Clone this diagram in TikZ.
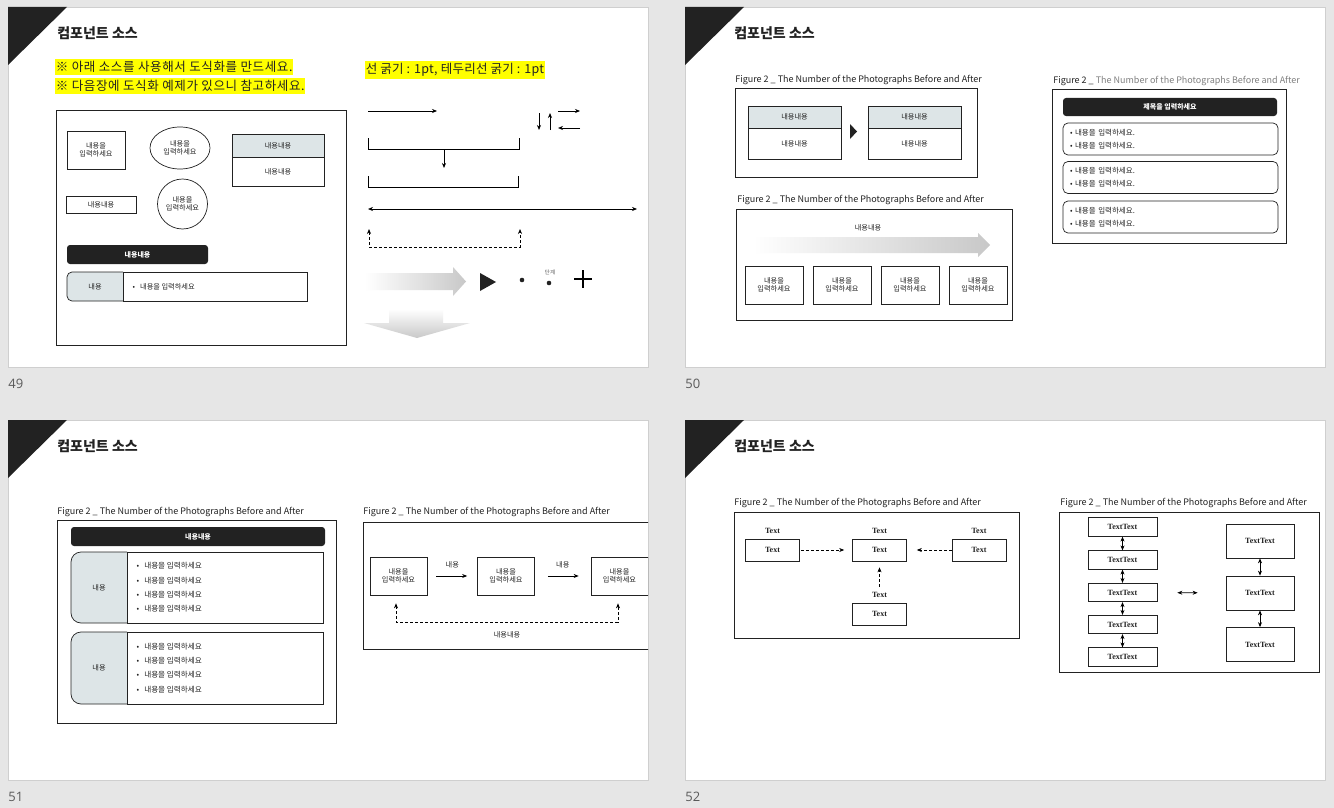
\documentclass[tikz,border=0pt]{standalone}
\usepackage{fontspec}
\setmainfont{Noto Sans CJK KR}
\newfontfamily\txtserif{Liberation Serif}
\newfontfamily\pagefont{Open Sans}
\usepackage{xcolor}
\usetikzlibrary{positioning, arrows.meta, shapes.geometric}
\definecolor{jet}{HTML}{222222}
\definecolor{page-gray}{HTML}{E6E6E6}
\definecolor{slide-line}{HTML}{CFCFCF}
\definecolor{cell-blue}{HTML}{DDE5E7}
\definecolor{hilite}{HTML}{FFFF00}
\definecolor{neutral}{HTML}{595959}
\definecolor{soft-gray}{HTML}{808080}
\definecolor{shade-gray}{HTML}{C8C8C8}

\begin{document}
\begin{tikzpicture}[x=1pt, y=-1pt, line width=0.7pt, >={Stealth[length=5pt, width=4pt]},
    every node/.style={font=\fontsize{7.2}{8.6}\selectfont, text=jet},
    box/.style={draw=jet, fill=white, align=center, inner sep=0pt},
    hdcell/.style={box, fill=cell-blue},
    darkbar/.style={fill=jet, rounded corners=3pt, text=white,
      font=\fontsize{7}{8}\selectfont\bfseries},
    listbox/.style={draw=jet, rounded corners=5pt, minimum width=215, minimum height=32,
      text width=201, align=left, inner xsep=7pt, font=\fontsize{7.5}{13}\selectfont},
    figcap/.style={font=\fontsize{9}{10}\selectfont, anchor=west, inner sep=0pt},
    titletxt/.style={font=\fontsize{14}{16}\selectfont\bfseries, anchor=west, inner sep=0pt},
    pagetxt/.style={font=\pagefont\fontsize{13}{15}\selectfont, text=neutral, anchor=west, inner sep=0pt},
    hilitetxt/.style={fill=hilite, font=\fontsize{12.5}{14}\selectfont\addfontfeature{LetterSpace=5},
      anchor=west, inner xsep=0.5pt, inner ysep=2.2pt},
    sertxt/.style={font=\txtserif\bfseries\fontsize{8}{9}\selectfont},
    dashlink/.style={densely dashed, line width=0.6pt, ->}]

  \useasboundingbox (0,0) rectangle (1334,808);
  \fill[page-gray] (0,0) rectangle (1334,808);

  % four slides
  \foreach \sx/\sy/\pg in {8/7/49, 685/7/50, 8/420/51, 685/420/52} {
    \draw[slide-line, fill=white] (\sx,\sy) rectangle ++(640,360);
    \fill[jet] (\sx,\sy) -- ++(59,0) -- ++(-59,58) -- cycle;
    \node[titletxt] (ttl\pg) at (\sx+49,\sy+26) {컴포넌트 소스};
    \node[pagetxt] (pg\pg) at (\sx,\sy+377) {\pg};
  }

  % slide 49
  \node[hilitetxt] (hl1) at (55,67) {※ 아래 소스를 사용해서 도식화를 만드세요.};
  \node[hilitetxt] (hl2) at (55,86) {※ 다음장에 도식화 예제가 있으니 참고하세요.};
  \node[hilitetxt, font=\fontsize{12.5}{14}\selectfont\addfontfeature{LetterSpace=2}] (hl3) at (365,70)
    {선 굵기 : 1pt, 테두리선 굵기 : 1pt};
  \draw[jet] (56,110) rectangle (346,345);
  \node[box, minimum width=58, minimum height=38] (src1) at (96,150) {내용을\\입력하세요};
  \node[box, ellipse, minimum width=60, minimum height=42] (src2) at (180,148) {내용을\\입력하세요};
  \node[hdcell, minimum width=92, minimum height=23] (src3) at (278,145.5) {내용내용};
  \node[box, minimum width=92, minimum height=29] (src4) at (278,171.5) {내용내용};
  \node[box, minimum width=70, minimum height=17] (src5) at (101,204.5) {내용내용};
  \node[box, circle, minimum size=50] (src6) at (182.5,204) {내용을\\입력하세요};
  \node[darkbar, minimum width=141, minimum height=19] (src7) at (137.5,254.5) {내용내용};
  \filldraw[draw=jet, fill=cell-blue, rounded corners=5pt] (123,272) -- (67,272) -- (67,301) -- (123,301);
  \draw[jet] (123,272) rectangle (307,301);
  \node (src8) at (95,286.5) {내용};
  \node[anchor=west] (src9) at (129,286.5) {•\hspace{5pt}내용을 입력하세요};

  \draw[->] (368,111) -- (437,111);
  \draw[->] (539,113) -- (539,130);
  \draw[->] (550,130) -- (550,113);
  \draw[->] (558,111) -- (580,111);
  \draw[->] (580,128) -- (558,128);
  \draw (368,138) -- (368,149) -- (519,149) -- (519,138);
  \draw[->] (444,149) -- (444,168);
  \draw (368,176) -- (368,187) -- (518,187) -- (518,176);
  \draw[<->] (368,209) -- (637,209);
  \draw[densely dashed, <->] (369,229) -- (369,247) -- (520,247) -- (520,229);
  \shade[left color=white, right color=shade-gray] (365,273) -- (453,273) -- (453,267)
    -- (466,281.5) -- (453,296) -- (453,290) -- (365,290) -- cycle;
  \fill[jet] (480,273) -- (496,282) -- (480,291) -- cycle;
  \fill[jet] (522,280) circle (2.3);
  \fill[jet] (549,283) circle (2.3);
  \node[text=neutral, font=\fontsize{5.5}{6}\selectfont] (stp) at (550,272) {단계};
  \draw[line width=1.5pt] (574,279) -- (592,279) (583,270) -- (583,288);
  \shade[top color=white, bottom color=shade-gray] (389,309) -- (443,309) -- (443,323)
    -- (470,323) -- (417,338) -- (364,323) -- (389,323) -- cycle;

  % slide 50
  \node[figcap] (cap50a) at (735,80) {Figure 2 \_ The Number of the Photographs Before and After};
  \draw[jet] (735,88) rectangle (977,177);
  \node[hdcell, minimum width=93, minimum height=22] (bfh) at (794.5,117) {내용내용};
  \node[box, minimum width=93, minimum height=31] (bfb) at (794.5,143.5) {내용내용};
  \node[hdcell, minimum width=93, minimum height=22] (afh) at (914.5,117) {내용내용};
  \node[box, minimum width=93, minimum height=31] (afb) at (914.5,143.5) {내용내용};
  \fill[jet] (850,124) -- (857,131.5) -- (850,139) -- cycle;

  \node[figcap] (cap50b) at (737,200) {Figure 2 \_ The Number of the Photographs Before and After};
  \draw[jet] (736,209) rectangle (1012,320);
  \node (flow) at (868,228) {내용내용};
  \shade[left color=white, right color=shade-gray] (753,237) -- (978,237) -- (978,233)
    -- (990,245) -- (978,257) -- (978,253) -- (753,253) -- cycle;
  \foreach \i/\x in {1/774, 2/842, 3/910, 4/978}
    \node[box, minimum width=58, minimum height=38] (stg\i) at (\x,285) {내용을\\입력하세요};

  \node[figcap] (cap50c) at (1053,81) {Figure 2 \_ {\color{soft-gray}The Number of the Photographs Before and After}};
  \draw[jet] (1052,89) rectangle (1286,243);
  \node[darkbar, minimum width=214, minimum height=18] (ttlbar) at (1170,107) {제목을 입력하세요};
  \foreach \i/\y in {1/139, 2/177.5, 3/217}
    \node[listbox] (item\i) at (1170.5,\y) {• 내용을 입력하세요.\\• 내용을 입력하세요.};

  % slide 51
  \node[figcap] (cap51a) at (57,512) {Figure 2 \_ The Number of the Photographs Before and After};
  \draw[jet] (57,520) rectangle (336,723);
  \node[darkbar, minimum width=254, minimum height=19] (grpbar) at (198,536.5) {내용내용};
  \foreach \i/\ya/\yb in {1/552/623, 2/632/704} {
    \filldraw[draw=jet, fill=cell-blue, rounded corners=10pt] (127,\ya) -- (71,\ya) -- (71,\yb) -- (127,\yb);
    \draw[jet] (127,\ya) rectangle (323,\yb);
    \node (grp\i) at (99,{(\ya+\yb)/2}) {내용};
    \node[anchor=west, align=left, font=\fontsize{7.6}{14.3}\selectfont] (pts\i) at (133,{(\ya+\yb)/2})
      {•\hspace{5pt}내용을 입력하세요\\•\hspace{5pt}내용을 입력하세요\\•\hspace{5pt}내용을 입력하세요\\•\hspace{5pt}내용을 입력하세요};
  }

  \begin{scope}
    \clip (8,420) rectangle (648,780);
    \node[figcap] (cap51b) at (363,512) {Figure 2 \_ The Number of the Photographs Before and After};
    \draw[jet] (363,522) rectangle (660,649);
    \node[box, minimum width=57, minimum height=38] (cyc1) at (398.5,576) {내용을\\입력하세요};
    \node[box, minimum width=57, minimum height=38] (cyc2) at (506,576) {내용을\\입력하세요};
    \node[box, minimum width=57, minimum height=38] (cyc3) at (619.5,576) {내용을\\입력하세요};
    \draw[->, shorten <=9pt, shorten >=10pt] (cyc1) -- node[above=4pt] (lk1) {내용} (cyc2);
    \draw[->, shorten <=13pt, shorten >=12pt] (cyc2) -- node[above=4pt] (lk2) {내용} (cyc3);
    \coordinate (ret1) at (396,622);
    \coordinate (ret2) at (618,622);
    \draw[densely dashed, <->, shorten <=8pt, shorten >=8pt] (cyc1.south -| ret1) -- (ret1)
      -- node[below=6pt] (lk3) {내용내용} (ret2) -- (cyc3.south -| ret2);
  \end{scope}

  % slide 52
  \node[figcap] (cap52a) at (734,503) {Figure 2 \_ The Number of the Photographs Before and After};
  \draw[jet] (734,512) rectangle (1019,638);
  \node[box, sertxt, minimum width=54, minimum height=22] (west) at (772.5,550) {Text};
  \node[box, sertxt, minimum width=54, minimum height=22] (hub) at (879.5,550) {Text};
  \node[box, sertxt, minimum width=54, minimum height=22] (east) at (979,550) {Text};
  \node[box, sertxt, minimum width=54, minimum height=22] (south) at (879.5,614) {Text};
  \node[sertxt, above=1pt of west] (westlbl) {Text};
  \node[sertxt, above=1pt of hub] (hublbl) {Text};
  \node[sertxt, above=1pt of east] (eastlbl) {Text};
  \node[sertxt, above=1pt of south] (southlbl) {Text};
  \draw[dashlink, shorten <=1pt, shorten >=8pt] (west) -- (hub);
  \draw[dashlink, shorten >=10pt] (east) -- (hub);
  \draw[dashlink, shorten <=2pt, shorten >=6pt] (southlbl) -- (hub);

  \node[figcap] (cap52b) at (1060,503) {Figure 2 \_ The Number of the Photographs Before and After};
  \draw[jet] (1059,512) rectangle (1319,672);
  \foreach \i/\y in {1/527, 2/560, 3/592.5, 4/624.5, 5/657}
    \node[box, sertxt, minimum width=69, minimum height=18.5] (stack\i) at (1122.5,\y) {TextText};
  \foreach \i/\y in {1/541, 2/593, 3/644.5}
    \node[box, sertxt, minimum width=68, minimum height=34] (tier\i) at (1260,\y) {TextText};
  \foreach \a/\b in {1/2, 2/3, 3/4, 4/5}
    \draw[<->] (stack\a) -- (stack\b);
  \foreach \a/\b in {1/2, 2/3}
    \draw[<->] (tier\a) -- (tier\b);
  \draw[<->, shorten <=20pt, shorten >=28pt] (stack3) -- (tier2);
\end{tikzpicture}
\end{document}
